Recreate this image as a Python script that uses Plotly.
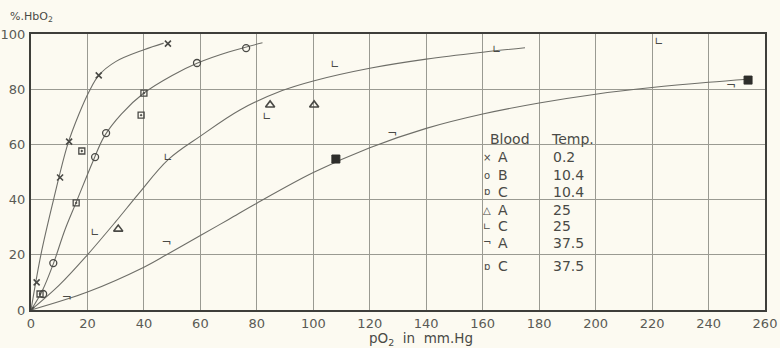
import plotly.graph_objects as go

# ---------------- data ----------------
x_tick_vals = [0, 20, 40, 60, 80, 100, 120, 140, 160, 180, 200, 220, 240, 260]
x_tick_text = ["0", "20", "40", "60", "80", "100", "120", "140", "160", "180", "200", "220", "240", "260"]
y_tick_vals = [0, 20, 40, 60, 80, 100]
y_tick_text = ["0", "20", "40", "60", "80", "100"]

# observed points
a02_x = [0, 2, 10.3, 13.5, 24, 48.5]
a02_y = [0, 10, 48, 61, 85, 96.5]

b104_x = [4.3, 7.9, 22.7, 26.6, 58.8, 76.2]
b104_y = [5.8, 17, 55.4, 64.1, 89.5, 94.9]

c104_x = [3.2, 16, 18, 39, 40]
c104_y = [5.8, 38.8, 57.6, 70.6, 78.6]

a25_x = [30.9, 84.7, 100.3]
a25_y = [29.3, 74.3, 74.3]

c25_x = [22.7, 48.6, 83.6, 107.7, 165, 222.5]
c25_y = [27.9, 55, 70, 88.8, 94.2, 97.1]

a375_x = [12.7, 48, 128, 248]
a375_y = [4.3, 24.3, 63.8, 81.2]

c375_x = [108, 254]
c375_y = [54.7, 83.3]

# hand-drawn curves
curve02_x = [0, 3.5, 8, 13, 17, 20.5, 24, 30, 40, 47]
curve02_y = [0, 20, 40, 60, 71, 79, 85, 90, 94.3, 96.7]

curve104_x = [0, 4, 8, 12, 16, 22, 26, 32, 40, 50, 59, 70, 82]
curve104_y = [0, 7, 17, 29, 39, 54, 63, 71, 78.6, 85, 89.5, 93.5, 96.8]

curve25_x = [0, 10, 20, 30, 38, 48.6, 60, 74, 89, 100, 120, 140, 160, 175]
curve25_y = [0, 9, 20, 32, 42, 54.5, 63, 72.5, 79.5, 83, 87.6, 90.9, 93.4, 95]

curve375_x = [0, 20, 40, 48, 60, 70, 80, 100, 120, 140, 160, 180, 200, 220, 240, 254]
curve375_y = [0, 6.5, 15.5, 20, 27, 32.8, 38.7, 49.8, 58.8, 65.8, 71, 75, 78.2, 80.6, 82.5, 83.6]

legend_blood = ["A", "B", "C", "A", "C", "A", "C"]
legend_temp = ["0.2", "10.4", "10.4", "25", "25", "37.5", "37.5"]
legend_glyph = ["×", "o", "ɒ", "△", "∟", "¬", "ɒ"]

# ---------------- figure ----------------
BG = "#fcfaf1"
INK = "#4a4a46"
CURVE = "#6e6e68"
GRID = "#9a9a92"
FONT = "DejaVu Sans"

fig = go.Figure()

for cx, cy in [(curve02_x, curve02_y), (curve104_x, curve104_y),
               (curve25_x, curve25_y), (curve375_x, curve375_y)]:
    fig.add_trace(go.Scatter(x=cx, y=cy, mode="lines",
                             line=dict(color=CURVE, width=1.1, shape="spline", smoothing=1.0),
                             hoverinfo="skip", showlegend=False))

fig.add_trace(go.Scatter(x=a02_x, y=a02_y, mode="markers",
                         marker=dict(symbol="x-thin", size=6, color=INK, line=dict(color=INK, width=1.6)),
                         showlegend=False))
fig.add_trace(go.Scatter(x=b104_x, y=b104_y, mode="markers",
                         marker=dict(symbol="circle-open", size=7, color=INK, line=dict(color=INK, width=1.3)),
                         showlegend=False))
fig.add_trace(go.Scatter(x=c104_x, y=c104_y, mode="markers",
                         marker=dict(symbol="square-open-dot", size=6, color=INK, line=dict(color=INK, width=1.3)),
                         showlegend=False))
fig.add_trace(go.Scatter(x=a25_x, y=a25_y, mode="markers",
                         marker=dict(symbol="triangle-up-open", size=8, color=INK, line=dict(color=INK, width=1.6)),
                         showlegend=False))
fig.add_trace(go.Scatter(x=c25_x, y=c25_y, mode="text", text=["∟"] * len(c25_x),
                         textfont=dict(family=FONT, size=11, color=INK),
                         showlegend=False))
fig.add_trace(go.Scatter(x=a375_x, y=a375_y, mode="text", text=["¬"] * len(a375_x),
                         textfont=dict(family=FONT, size=12, color=INK),
                         showlegend=False))
fig.add_trace(go.Scatter(x=c375_x, y=c375_y, mode="markers",
                         marker=dict(symbol="square-x", size=8, color="#2e2e2b", line=dict(color="#2e2e2b", width=1)),
                         showlegend=False))

# legend table (positions in paper coordinates)
row_y = [0.554, 0.489, 0.428, 0.362, 0.304, 0.243, 0.159]
annos = [
    dict(x=0.623, y=0.62, text="Blood", xanchor="left"),
    dict(x=0.706, y=0.62, text="Temp.", xanchor="left"),
]
for gy, g, b, t in zip(row_y, legend_glyph, legend_blood, legend_temp):
    annos.append(dict(x=0.621, y=gy, text=g, xanchor="center", font=dict(family=FONT, size=10, color=INK)))
    annos.append(dict(x=0.643, y=gy, text=b, xanchor="center"))
    annos.append(dict(x=0.709, y=gy, text=t, xanchor="left"))
for a in annos:
    a.setdefault("font", dict(family=FONT, size=14, color=INK))
    a.update(xref="paper", yref="paper", yanchor="middle", showarrow=False)

annos.append(dict(x=-0.031, y=1.06, xref="paper", yref="paper", text="%.HbO<sub>2</sub>",
                  xanchor="left", yanchor="middle", showarrow=False,
                  font=dict(family=FONT, size=11, color=INK)))
annos.append(dict(x=138, y=-0.105, xref="x", yref="paper", text="pO<sub>2</sub>  in  mm.Hg",
                  xanchor="center", yanchor="middle", showarrow=False,
                  font=dict(family=FONT, size=13.5, color=INK)))

fig.update_layout(
    width=780, height=348,
    margin=dict(l=31, r=15, t=34, b=38, autoexpand=False),
    paper_bgcolor=BG, plot_bgcolor=BG,
    annotations=annos,
    showlegend=False,
    xaxis=dict(range=[0, 260], tickvals=x_tick_vals, ticktext=x_tick_text, automargin=False,
               showgrid=True, gridcolor=GRID, gridwidth=1, zeroline=False,
               showline=True, linecolor="#3e3e3a", linewidth=2, mirror=True,
               ticks="", tickfont=dict(family=FONT, size=13, color="#5a5a55")),
    yaxis=dict(range=[0, 100], tickvals=y_tick_vals, ticktext=y_tick_text, automargin=False,
               showgrid=True, gridcolor=GRID, gridwidth=1, zeroline=False,
               showline=True, linecolor="#3e3e3a", linewidth=2, mirror=True,
               ticks="", ticklabelstandoff=1, tickfont=dict(family=FONT, size=13, color="#5a5a55")),
)

fig.write_html(
    "out.html",
    config={"displayModeBar": False},
    post_script="document.body.style.margin='0';document.body.style.background='%s';" % BG,
)
